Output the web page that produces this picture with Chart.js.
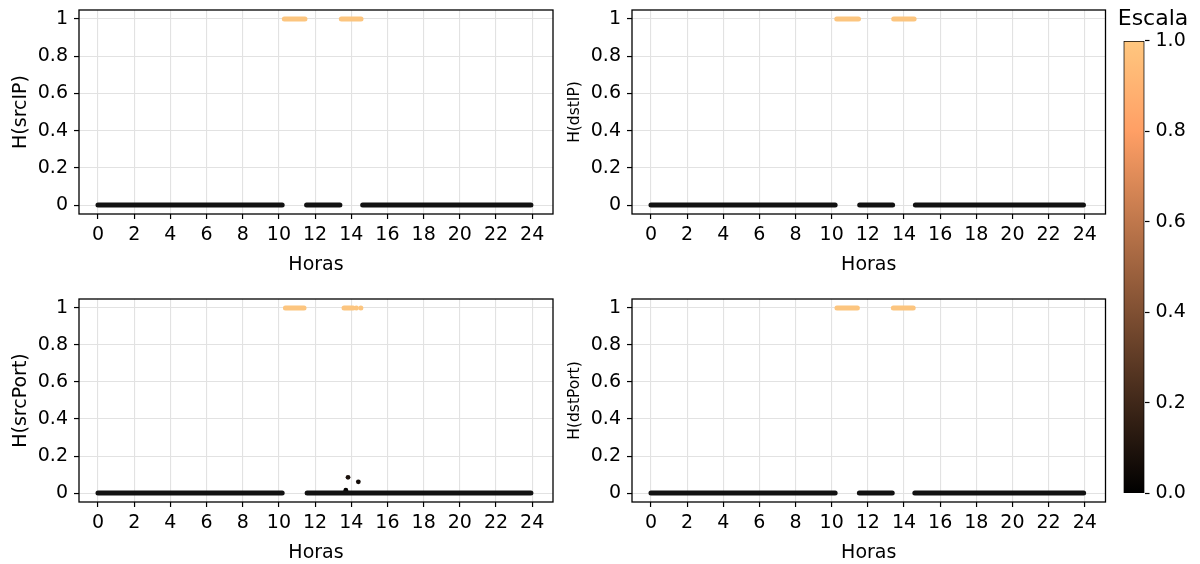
<!DOCTYPE html>
<html>
<head>
<meta charset="utf-8">
<script src="https://cdn.jsdelivr.net/npm/chart.js@4.4.1/dist/chart.umd.min.js"></script>
<style>
  html, body { margin: 0; padding: 0; background: #fff; width: 1200px; height: 564px; overflow: hidden; }
  .box { position: absolute; }
</style>
</head>
<body>
<div class="box" style="left:0px;top:0px;width:560px;height:276px"><canvas id="cSrcIP"></canvas></div>
<div class="box" style="left:560px;top:0px;width:553px;height:276px"><canvas id="cDstIP"></canvas></div>
<div class="box" style="left:0px;top:289px;width:560px;height:275px"><canvas id="cSrcPort"></canvas></div>
<div class="box" style="left:560px;top:289px;width:553px;height:275px"><canvas id="cDstPort"></canvas></div>
<div class="box" style="left:1106px;top:0px;width:94px;height:564px"><canvas id="cEscala"></canvas></div>
<script>
// ticks
const horasTicks = [0, 2, 4, 6, 8, 10, 12, 14, 16, 18, 20, 22, 24];
const hTicks = [0, 0.2, 0.4, 0.6, 0.8, 1];
const escalaTicks = [0, 0.2, 0.4, 0.6, 0.8, 1];

// runs of consecutive samples [from hour, to hour], H = 0 and H = 1
const srcIPBajo = [[0, 10.18], [11.53, 13.37], [14.63, 23.93]];
const srcIPAlto = [[10.30, 11.44], [13.45, 14.54]];

const dstIPBajo = [[0, 10.19], [11.55, 13.37], [14.63, 23.93]];
const dstIPAlto = [[10.28, 11.48], [13.43, 14.56]];

const srcPortBajo = [[0, 10.18], [11.56, 23.93]];
const srcPortAlto = [[10.36, 11.39], [13.60, 14.10]];
const srcPortAltoSueltos = [14.28, 14.53];
// isolated samples [hour, H]
const srcPortSueltos = [[13.70, 0.016], [13.82, 0.085], [14.39, 0.061]];

const dstPortBajo = [[0, 10.19], [11.53, 13.35], [14.60, 23.94]];
const dstPortAlto = [[10.29, 11.42], [13.41, 14.51]];

// copper colormap
const cobreStops = [0, 0.8, 1];
const cobreColores = ['rgb(0,0,0)', 'rgb(255,159,101)', 'rgb(255,199,127)'];
function cobre(v) {
  const r = Math.min(1, 1.25 * v) * 255, g = 0.7812 * v * 255, b = 0.4975 * v * 255;
  return 'rgb(' + Math.round(r) + ',' + Math.round(g) + ',' + Math.round(b) + ')';
}
const colorBajo = '#121212';
const colorAlto = '#fcc57f';
const fuente = 'DejaVu Sans';

const marco = {
  id: 'marco',
  afterDraw(chart) {
    const a = chart.chartArea, ctx = chart.ctx;
    ctx.save();
    ctx.strokeStyle = '#000';
    ctx.lineWidth = 1.3;
    ctx.strokeRect(a.left, a.top, a.right - a.left, a.bottom - a.top);
    ctx.restore();
  }
};

function tramos(runs, y, color) {
  return runs.map(r => ({
    data: [{x: r[0], y: y}, {x: r[1], y: y}],
    showLine: true,
    borderColor: color,
    borderWidth: 5,
    borderCapStyle: 'round',
    pointRadius: 0
  }));
}

function panel(id, bajo, alto, extra, yLabel, yFont, yWidth, yPad, padRight) {
  const datasets = tramos(bajo, 0, colorBajo).concat(tramos(alto, 1, colorAlto)).concat(extra);
  new Chart(document.getElementById(id), {
    type: 'scatter',
    data: { datasets: datasets },
    options: {
      responsive: true,
      maintainAspectRatio: false,
      animation: false,
      events: [],
      layout: { padding: { top: 10, right: padRight, left: 0, bottom: 0 } },
      plugins: { legend: { display: false }, tooltip: { enabled: false } },
      scales: {
        x: {
          type: 'linear', min: -1.05, max: 25.15,
          afterBuildTicks: s => { s.ticks = horasTicks.map(v => ({value: v})); },
          afterFit: s => { s.height = 62; s.paddingLeft = 0; s.paddingRight = 0; },
          grid: { color: '#e2e2e2', lineWidth: 1.1, tickColor: '#000', tickLength: 5, tickWidth: 1.2 },
          border: { display: false },
          ticks: { color: '#000', padding: 5, maxRotation: 0, autoSkip: false,
                   font: { family: fuente, size: 19 }, callback: v => String(v) },
          title: { display: true, text: 'Horas', color: '#000', padding: { top: 0, bottom: 0 },
                   font: { family: fuente, size: 19 } }
        },
        y: {
          type: 'linear', min: -0.048, max: 1.048,
          afterBuildTicks: s => { s.ticks = hTicks.map(v => ({value: v})); },
          afterFit: s => { s.width = yWidth; s.paddingTop = 0; s.paddingBottom = 0; },
          grid: { color: '#e2e2e2', lineWidth: 1.1, tickColor: '#000', tickLength: 5, tickWidth: 1.2 },
          border: { display: false },
          ticks: { color: '#000', padding: 6, autoSkip: false,
                   font: { family: fuente, size: 19 },
                   callback: v => String(Math.round(v * 10) / 10) },
          title: { display: true, text: yLabel, color: '#000', padding: { top: yPad, bottom: 0 },
                   font: { family: fuente, size: yFont } }
        }
      }
    },
    plugins: [marco]
  });
}

const srcPortExtra = [
  {
    data: srcPortAltoSueltos.map(h => ({x: h, y: 1})),
    pointRadius: 2.5, pointBackgroundColor: colorAlto, pointBorderWidth: 0
  },
  {
    data: srcPortSueltos.map(p => ({x: p[0], y: p[1]})),
    pointRadius: 2.4, pointBackgroundColor: srcPortSueltos.map(p => cobre(p[1])), pointBorderWidth: 0
  }
];

panel('cSrcIP', srcIPBajo, srcIPAlto, [], 'H(srcIP)', 19, 79, 9.5, 7);
panel('cDstIP', dstIPBajo, dstIPAlto, [], 'H(dstIP)', 15.5, 72, 5.5, 7.5);
panel('cSrcPort', srcPortBajo, srcPortAlto, srcPortExtra, 'H(srcPort)', 19, 79, 9.5, 7);
panel('cDstPort', dstPortBajo, dstPortAlto, [], 'H(dstPort)', 15.5, 72, 5.5, 7.5);

// colorbar
new Chart(document.getElementById('cEscala'), {
  type: 'bar',
  data: {
    labels: [''],
    datasets: [{
      data: [[0, 1]],
      barPercentage: 1, categoryPercentage: 1,
      borderWidth: 1.2, borderColor: '#000', borderSkipped: false,
      backgroundColor: c => {
        const a = c.chart.chartArea;
        if (!a) return '#000';
        const g = c.chart.ctx.createLinearGradient(0, a.bottom, 0, a.top);
        cobreStops.forEach((s, i) => g.addColorStop(s, cobreColores[i]));
        return g;
      }
    }]
  },
  options: {
    responsive: true,
    maintainAspectRatio: false,
    animation: false,
    events: [],
    layout: { padding: { top: 0, left: 0, right: 0, bottom: 71 } },
    plugins: {
      legend: { display: false }, tooltip: { enabled: false },
      title: { display: true, text: 'Escala', color: '#000', padding: { top: 6.5, bottom: 8 },
               font: { family: fuente, size: 22, weight: 'normal', lineHeight: 1.2 } }
    },
    scales: {
      x: { display: false },
      hueco: {
        type: 'linear', position: 'left',
        grid: { display: false }, ticks: { display: false }, border: { display: false },
        afterFit: s => { s.width = 17.5; }
      },
      y: {
        position: 'right', min: 0, max: 1,
        afterBuildTicks: s => { s.ticks = escalaTicks.map(v => ({value: v})); },
        afterFit: s => { s.width = 55.5; s.paddingTop = 0; s.paddingBottom = 0; },
        grid: { drawOnChartArea: false, tickColor: '#000', tickLength: 5, tickWidth: 1.2 },
        border: { display: false },
        ticks: { color: '#000', padding: 6, font: { family: fuente, size: 19 },
                 callback: v => v.toFixed(1) }
      }
    }
  }
});
</script>
</body>
</html>
